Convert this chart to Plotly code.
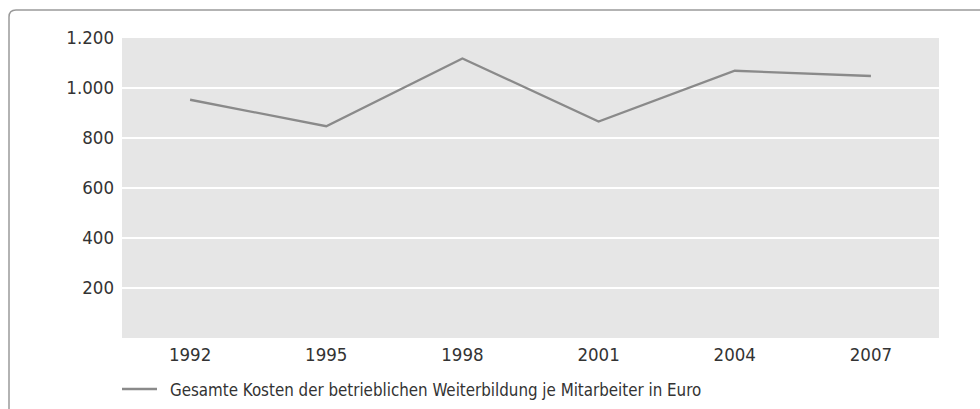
import plotly.graph_objects as go

# Kosten je Mitarbeiter (Euro)
years = ["1992", "1995", "1998", "2001", "2004", "2007"]
costs = [953, 847, 1118, 866, 1069, 1048]
y_ticks = [200, 400, 600, 800, 1000, 1200]
y_tick_labels = ["200", "400", "600", "800", "1.000", "1.200"]
series_name = "Gesamte Kosten der betrieblichen Weiterbildung je Mitarbeiter in Euro"

W, H = 980, 409
L, R, T, B = 122, 41, 38, 71
pw, ph = W - L - R, H - T - B
FONT = "DejaVu Sans Condensed, sans-serif"
TEXT = "#333333"
LINE = "#8a8a8a"


def px(x):
    return (x - L) / pw


def py(y):
    return (H - B - y) / ph


fig = go.Figure()
fig.add_trace(go.Scatter(
    x=years, y=costs, mode="lines", name=series_name,
    line=dict(color=LINE, width=2.3), showlegend=False,
))

# rounded frame around the figure (open to the right and bottom)
r = 7
frame = (
    f"M {px(9)} {py(420)} L {px(9)} {py(10 + r)} "
    f"Q {px(9)} {py(10)} {px(9 + r)} {py(10)} L {px(990)} {py(10)}"
)
fig.add_shape(type="path", path=frame, xref="paper", yref="paper",
              line=dict(color="#9a9a9a", width=1.5), layer="below")

# legend key below the plot
fig.add_shape(type="line", xref="paper", yref="paper",
              x0=px(122), x1=px(157), y0=py(389), y1=py(389),
              line=dict(color=LINE, width=2.3))
fig.add_annotation(x=px(168), y=py(389.5), xref="paper", yref="paper",
                   xanchor="left", yanchor="middle", showarrow=False,
                   text=series_name, font=dict(family=FONT, size=16.8, color=TEXT))

fig.update_layout(
    width=W, height=H,
    margin=dict(l=L, r=R, t=T, b=B),
    paper_bgcolor="white",
    plot_bgcolor="#e6e6e6",
    font=dict(family=FONT, size=18.5, color=TEXT),
    showlegend=False,
    xaxis=dict(type="category", range=[-0.5, 5.5], showgrid=False,
               zeroline=False, showline=False, ticks="", ticklen=0,
               ticklabelstandoff=3, tickfont=dict(size=18.5)),
    yaxis=dict(range=[0, 1200], tickvals=y_ticks, ticktext=y_tick_labels,
               showgrid=True, gridcolor="white", gridwidth=2,
               zeroline=False, showline=False, ticks="",
               ticklabelstandoff=7, tickfont=dict(size=18.5)),
)

fig.write_html("out.html")
